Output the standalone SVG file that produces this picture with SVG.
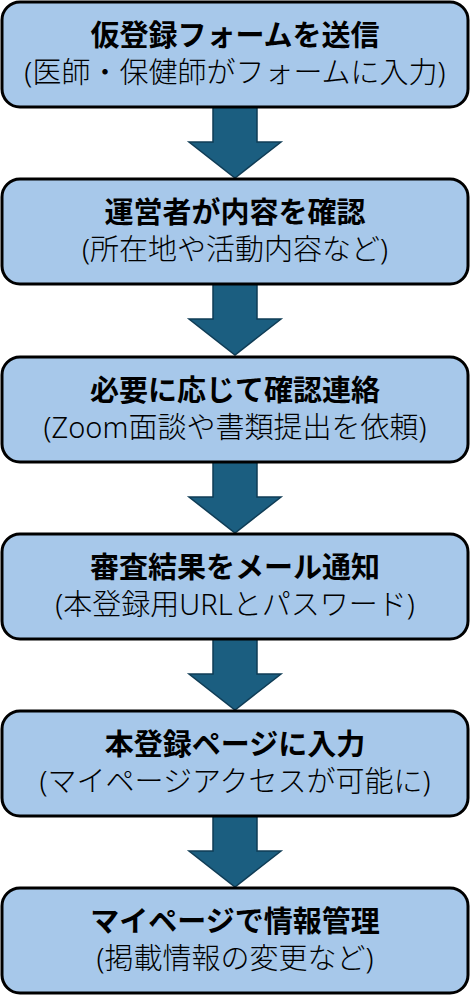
<svg xmlns="http://www.w3.org/2000/svg" width="470" height="995" viewBox="0 0 470 995">
<style>
.box{fill:#a7c8ea;stroke:#000;stroke-width:3}
.arr{fill:#1b5e80;stroke:#0f3c55;stroke-width:1.5;stroke-linejoin:miter}
text{font-family:"Noto Sans","Noto Sans CJK JP",sans-serif;font-size:29px;fill:#000;text-anchor:middle}
.t{font-weight:bold}
.s{font-weight:300}
</style>
<rect width="470" height="995" fill="#fff"/>
<g id="connectors">
<polygon class="arr" points="213,107 257,107 257,142 281,142 235,178 189,142 213,142"/>
<polygon class="arr" points="213,284 257,284 257,319 281,319 235,355 189,319 213,319"/>
<polygon class="arr" points="213,462 257,462 257,497 281,497 235,533 189,497 213,497"/>
<polygon class="arr" points="213,639 257,639 257,674 281,674 235,710 189,674 213,674"/>
<polygon class="arr" points="213,816 257,816 257,851 281,851 235,887 189,851 213,851"/>
</g>
<g id="n1"><rect class="box" x="2" y="2" width="466" height="105" rx="18"/>
<text class="t" x="235" y="46">仮登録フォームを送信</text>
<text class="s" x="235" y="83">(医師・保健師がフォームに入力)</text></g>
<g id="n2"><rect class="box" x="2" y="179" width="466" height="105" rx="18"/>
<text class="t" x="235" y="223">運営者が内容を確認</text>
<text class="s" x="235" y="260">(所在地や活動内容など)</text></g>
<g id="n3"><rect class="box" x="2" y="357" width="466" height="105" rx="18"/>
<text class="t" x="235" y="401">必要に応じて確認連絡</text>
<text class="s" x="235" y="438">(Zoom面談や書類提出を依頼)</text></g>
<g id="n4"><rect class="box" x="2" y="534" width="466" height="105" rx="18"/>
<text class="t" x="235" y="578">審査結果をメール通知</text>
<text class="s" x="235" y="615">(本登録用URLとパスワード)</text></g>
<g id="n5"><rect class="box" x="2" y="711" width="466" height="105" rx="18"/>
<text class="t" x="235" y="755">本登録ページに入力</text>
<text class="s" x="235" y="792">(マイページアクセスが可能に)</text></g>
<g id="n6"><rect class="box" x="2" y="888" width="466" height="105" rx="18"/>
<text class="t" x="235" y="932">マイページで情報管理</text>
<text class="s" x="235" y="969">(掲載情報の変更など)</text></g>
</svg>
